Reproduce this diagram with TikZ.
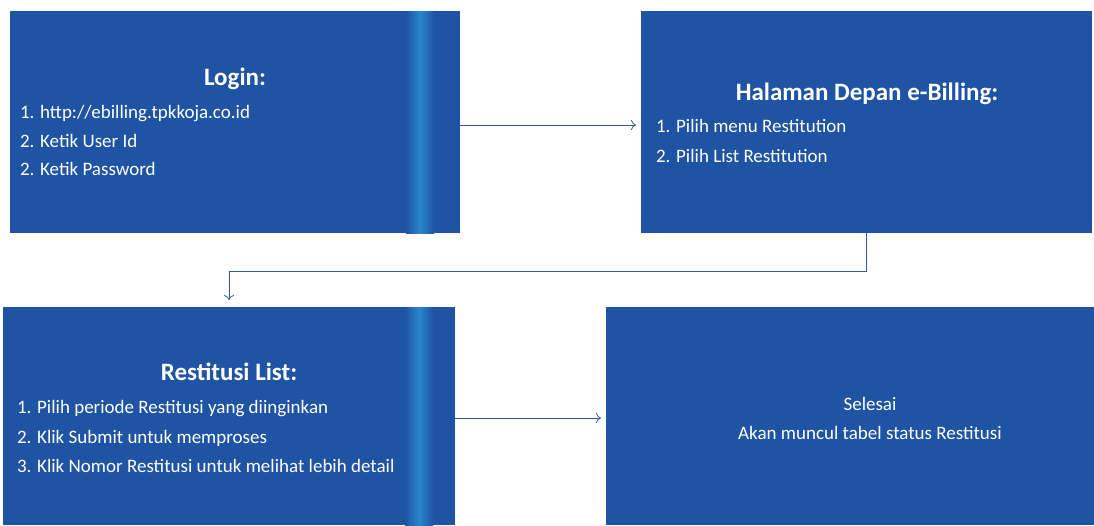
\documentclass[tikz,border=0pt]{standalone}
\usepackage{fontspec}
\setmainfont{Carlito}
\usetikzlibrary{positioning,calc,arrows,arrows.meta}

\definecolor{boxblue}{RGB}{31,84,164}
\definecolor{stripe}{RGB}{40,135,205}
\definecolor{linkblue}{RGB}{50,90,160}

\begin{document}
\begin{tikzpicture}[x=1pt, y=-1pt]
	\useasboundingbox (0,0) rectangle (1094,525);
	\begin{scope}
		\tikzstyle{every node}=[inner sep=0pt, outer sep=0pt]
		\tikzstyle{step box}=[fill=boxblue, draw=none, rectangle]
		\tikzstyle{head}=[text=white, font=\bfseries\fontsize{25}{28}\selectfont, anchor=base]
		\tikzstyle{item}=[text=white, font=\fontsize{19}{22}\selectfont, anchor=base west]
		\tikzstyle{plain}=[text=white, font=\fontsize{19}{22}\selectfont, anchor=base]
		\tikzstyle{link}=[linkblue, line width=0.8pt, -{To[length=5pt, width=10pt]}]

		\node[step box, minimum width=450pt, minimum height=222pt] (login) at (235, 122)   {};
		\node[step box, minimum width=451pt, minimum height=222pt] (hal)   at (866.5, 122) {};
		\node[step box, minimum width=452pt, minimum height=218pt] (rest)  at (229, 416)   {};
		\node[step box, minimum width=488pt, minimum height=218pt] (done)  at (850, 416)   {};

		% light stripes
		\shade[left color=boxblue, right color=boxblue, middle color=stripe] (406, 11) rectangle (434, 233);
		\shade[left color=boxblue, right color=boxblue, middle color=stripe] (405, 307) rectangle (433, 525);

		\node[head] (tlogin) at (235, 85)  {Login:};
		\node[item] (l1) at (20, 118) {1. http://ebilling.tpkkoja.co.id};
		\node[item] (l2) at (20, 147) {2. Ketik User Id};
		\node[item] (l3) at (20, 175) {2. Ketik Password};

		\node[head] (thal) at (867, 100) {Halaman Depan e-Billing:};
		\node[item] (h1) at (656, 132) {1. Pilih menu Restitution};
		\node[item] (h2) at (656, 162) {2. Pilih List Restitution};

		\node[head] (trest) at (229, 380) {Restitusi List:};
		\node[item] (r1) at (17, 413) {1. Pilih periode Restitusi yang diinginkan};
		\node[item] (r2) at (17, 443) {2. Klik Submit untuk memproses};
		\node[item] (r3) at (17, 472) {3. Klik Nomor Restitusi untuk melihat lebih detail};

		\node[plain] (d1) at (870, 410) {Selesai};
		\node[plain] (d2) at (870, 439) {Akan muncul tabel status Restitusi};

		\draw [link, shorten >=5pt, transform canvas={yshift=-3pt}] (login) to (hal);
		\draw [link, shorten >=7pt] (hal.south) -- ++(0,38) -| (rest.north);
		\draw [link, shorten >=5pt, transform canvas={yshift=-2pt}] (rest) to (done);
	\end{scope}
\end{tikzpicture}
\end{document}
